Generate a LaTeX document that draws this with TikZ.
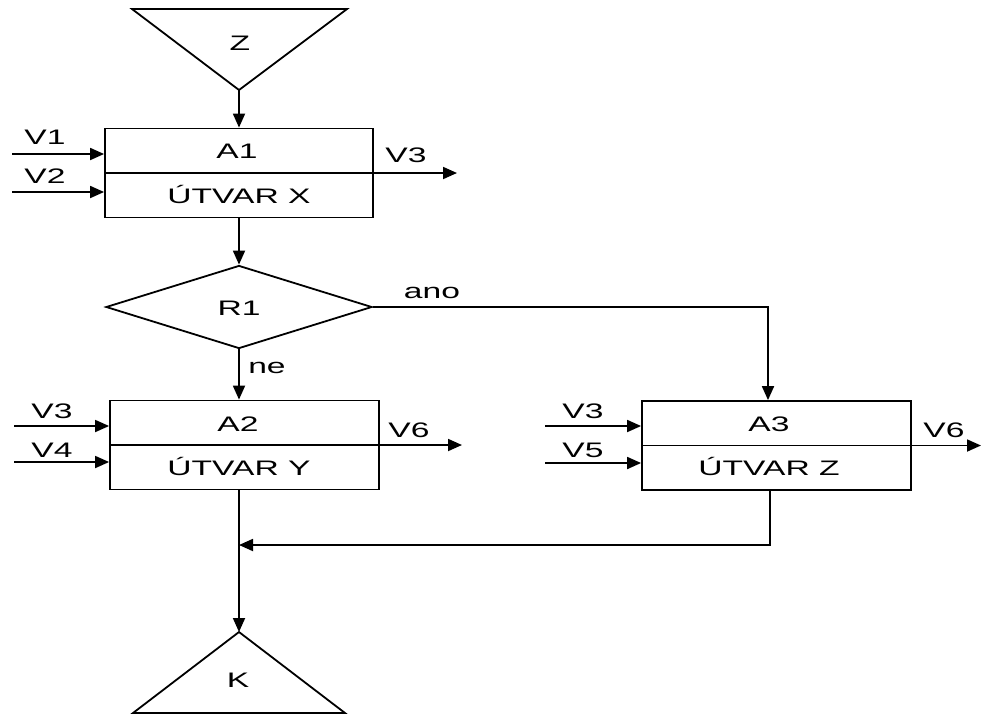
\documentclass[tikz,border=0pt]{standalone}
\usepackage{fontspec}
\setmainfont{Liberation Sans}[FakeStretch=1.6]
\usetikzlibrary{arrows.meta,shapes.geometric}

\tikzset{
	flow/.style={-{Triangle[length=14pt,width=12pt]}},
	blok/.style={draw, minimum width=268pt, minimum height=89pt, inner sep=0pt},
	rozh/.style={draw, diamond, minimum width=266pt, minimum height=83pt, inner sep=0pt},
	txt/.style={inner sep=0pt, text height=0.716em, text depth=0pt, yshift=-3pt},
}

\begin{document}
\begin{tikzpicture}[x=1pt, y=-1pt, line width=1.8pt, font=\fontsize{21}{25}\selectfont]
	\useasboundingbox (0,0) rectangle (982,716);

	% zacatek Z
	\draw (132,9) -- (347,9) -- (239,90) -- cycle;
	\coordinate (zTip) at (239,90);
	\node[txt] (zLbl) at (240,44) {Z};

	% A1
	\node[blok] (a1) at (239,173) {};
	\draw (a1.west) -- (a1.east);
	\node[txt] (a1Top) at (237,152) {A1};
	\node[txt] (a1Bot) at (239,197) {ÚTVAR X};
	\coordinate (v1in) at (12,154);
	\coordinate (v2in) at (12,192);
	\coordinate (v3out) at (457,173);
	\draw[flow] (v1in) -- (v1in -| a1.west);
	\draw[flow] (v2in) -- (v2in -| a1.west);
	\draw[flow] (a1.east) -- (v3out);
	\node[txt] (v1Lbl) at (45,138) {V1};
	\node[txt] (v2Lbl) at (45,177) {V2};
	\node[txt] (v3Lbl) at (406,156) {V3};
	\draw[flow] (zTip) -- (a1.north);

	% R1
	\node[rozh] (r1) at (239,307) {};
	\node[txt] (r1Lbl) at (239,309) {R1};
	\draw[flow] (a1.south) -- (r1.north);

	% A2
	\node[blok, minimum width=269pt] (a2) at (244.5,445) {};
	\draw (a2.west) -- (a2.east);
	\node[txt] (a2Top) at (238,425) {A2};
	\node[txt] (a2Bot) at (239,469) {ÚTVAR Y};
	\coordinate (v3in) at (14,426);
	\coordinate (v4in) at (14,462);
	\coordinate (v6out) at (462,445);
	\draw[flow] (v3in) -- (v3in -| a2.west);
	\draw[flow] (v4in) -- (v4in -| a2.west);
	\draw[flow] (a2.east) -- (v6out);
	\node[txt] (v3aLbl) at (52,412) {V3};
	\node[txt] (v4Lbl) at (52,451) {V4};
	\node[txt] (v6aLbl) at (409,431) {V6};
	\draw[flow] (r1.south) -- (r1.south |- a2.north);
	\node[txt] (neLbl) at (267,367) {ne};

	% A3
	\node[blok, minimum width=269pt] (a3) at (776.5,445.5) {};
	\draw (a3.west) -- (a3.east);
	\node[txt] (a3Top) at (769,425) {A3};
	\node[txt] (a3Bot) at (769,469) {ÚTVAR Z};
	\coordinate (v3bin) at (545,426);
	\coordinate (v5in) at (545,463);
	\coordinate (v6bout) at (981,445.5);
	\draw[flow] (v3bin) -- (v3bin -| a3.west);
	\draw[flow] (v5in) -- (v5in -| a3.west);
	\draw[flow] (a3.east) -- (v6bout);
	\node[txt] (v3bLbl) at (583,412) {V3};
	\node[txt] (v5Lbl) at (583,451) {V5};
	\node[txt] (v6bLbl) at (944,431) {V6};
	\coordinate (a3in) at (a3.north -| 768,0);
	\draw[flow] (r1.east) -| (a3in);
	\node[txt] (anoLbl) at (432,292) {ano};

	% konec K
	\draw (239,632) -- (345,713) -- (133,713) -- cycle;
	\coordinate (kTip) at (239,632);
	\node[txt] (kLbl) at (238,681) {K};
	\draw[flow] (kTip |- a2.south) -- (kTip);

	% spojeni z A3
	\coordinate (a3out) at (a3.south -| 770,0);
	\coordinate (join) at (239,545);
	\draw[flow] (a3out) |- (join);
\end{tikzpicture}
\end{document}
